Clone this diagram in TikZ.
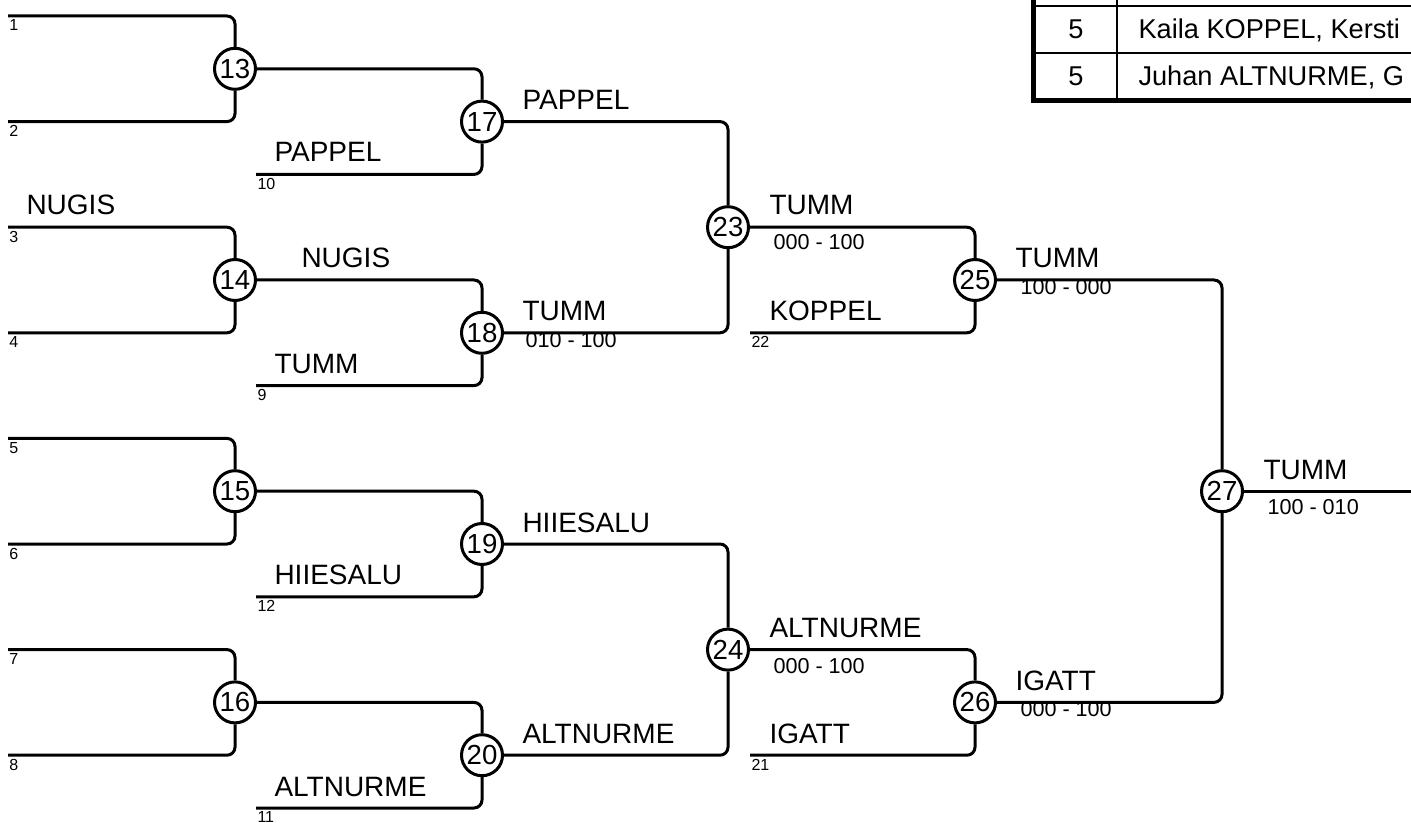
\documentclass[tikz,border=0pt]{standalone}
\usepackage{fontspec}
\setmainfont{Liberation Sans}

\begin{document}
\begin{tikzpicture}[x=0.5pt,y=-0.5pt,line width=1.5pt,
  match/.style={circle,draw,fill=white,inner sep=0pt,minimum size=20.5pt,font=\fontsize{13.8}{14}\selectfont},
  who/.style={anchor=base west,inner sep=0pt,font=\fontsize{14}{16}\selectfont},
  slot/.style={anchor=base west,inner sep=0pt,font=\fontsize{8}{9}\selectfont},
  score/.style={anchor=base west,inner sep=0pt,font=\fontsize{10.8}{12}\selectfont},
  cell/.style={inner sep=0pt,font=\fontsize{13.6}{15}\selectfont}]
\useasboundingbox (0,0) rectangle (1411,823);
\clip (0,0) rectangle (1411,823);
%----------------------------------
% round 1
\coordinate (s1) at (8,16);
\coordinate (s2) at (8,121.6);
\coordinate (s3) at (8,227.2);
\coordinate (s4) at (8,332.8);
\coordinate (s5) at (8,438.4);
\coordinate (s6) at (8,544);
\coordinate (s7) at (8,649.6);
\coordinate (s8) at (8,755.2);
\node [match] (m13) at (235,68.8) {13};
\node [match] (m14) at (235,280) {14};
\node [match] (m15) at (235,491.2) {15};
\node [match] (m16) at (235,702.4) {16};
%----------------------------------
% round 2
\coordinate (s10) at (256,174.4);
\coordinate (s9) at (256,385.6);
\coordinate (s12) at (256,596.8);
\coordinate (s11) at (256,808);
\node [match] (m17) at (482,121.6) {17};
\node [match] (m18) at (482,332.8) {18};
\node [match] (m19) at (482,544) {19};
\node [match] (m20) at (482,755.2) {20};
%----------------------------------
% rounds 3 to 5
\node [match] (m23) at (728,227.2) {23};
\node [match] (m24) at (728,649.6) {24};
\coordinate (s22) at (750,332.8);
\coordinate (s21) at (750,755.2);
\node [match] (m25) at (975,280) {25};
\node [match] (m26) at (975,702.4) {26};
\node [match] (m27) at (1222,491.2) {27};
\coordinate (fin) at (1430,491.2);
%----------------------------------
\begin{scope}[rounded corners=4pt]
\draw (s1) -| (m13);  \draw (s2) -| (m13);
\draw (s3) -| (m14);  \draw (s4) -| (m14);
\draw (s5) -| (m15);  \draw (s6) -| (m15);
\draw (s7) -| (m16);  \draw (s8) -| (m16);
\draw (m13) -| (m17); \draw (s10) -| (m17);
\draw (m14) -| (m18); \draw (s9) -| (m18);
\draw (m15) -| (m19); \draw (s12) -| (m19);
\draw (m16) -| (m20); \draw (s11) -| (m20);
\draw (m17) -| (m23); \draw (m18) -| (m23);
\draw (m19) -| (m24); \draw (m20) -| (m24);
\draw (m23) -| (m25); \draw (s22) -| (m25);
\draw (m24) -| (m26); \draw (s21) -| (m26);
\draw (m25) -| (m27); \draw (m26) -| (m27);
\draw (m27) -- (fin);
\end{scope}
%----------------------------------
% draw positions
\node [slot] (n1) at (8,31) {1};
\node [slot] (n2) at (8,136.6) {2};
\node [slot] (n3) at (8,242.2) {3};
\node [slot] (n4) at (8,347.8) {4};
\node [slot] (n5) at (8,453.4) {5};
\node [slot] (n6) at (8,559) {6};
\node [slot] (n7) at (8,664.6) {7};
\node [slot] (n8) at (8,770.2) {8};
\node [slot] (n10) at (256,189.4) {10};
\node [slot] (n9) at (256,400.6) {9};
\node [slot] (n12) at (256,611.8) {12};
\node [slot] (n11) at (256,822.5) {11};
\node [slot] (n22) at (750,347.8) {22};
\node [slot] (n21) at (750,770.2) {21};
%----------------------------------
% names
\node [who] (w3) at (25,215) {NUGIS};
\node [who] (w10) at (273,162) {PAPPEL};
\node [who] (w9) at (273,373.5) {TUMM};
\node [who] (w12) at (273,584.5) {HIIESALU};
\node [who] (w11) at (273,796) {ALTNURME};
\node [who] (w14) at (300,268) {NUGIS};
\node [who] (w17) at (521,109.5) {PAPPEL};
\node [who] (w18) at (521,320.5) {TUMM};
\node [who] (w19) at (521,532) {HIIESALU};
\node [who] (w20) at (521,743) {ALTNURME};
\node [who] (w23) at (768,215) {TUMM};
\node [who] (w22) at (768,320.5) {KOPPEL};
\node [who] (w24) at (768,637.5) {ALTNURME};
\node [who] (w21) at (768,743) {IGATT};
\node [who] (w25) at (1014,268) {TUMM};
\node [who] (w26) at (1014,690) {IGATT};
\node [who] (w27) at (1262,479) {TUMM};
%----------------------------------
% scores
\node [score] (r18) at (524,347) {010 - 100};
\node [score] (r23) at (772,250) {000 - 100};
\node [score] (r24) at (772,673) {000 - 100};
\node [score] (r25) at (1019,294) {100 - 000};
\node [score] (r26) at (1019,716) {000 - 100};
\node [score] (r27) at (1266,514) {100 - 010};
%----------------------------------
% ranking table
\draw [line width=1pt] (1033,6) -- (1500,6) (1033,53) -- (1500,53)
  (1117,-20) -- (1117,100);
\draw [line width=2.5pt] (1033,-20) -- (1033,101) -- (1500,101);
\node [cell,anchor=base] (p1) at (1076,39) {5};
\node [cell,anchor=base west] (q1) at (1137,39) {Kaila KOPPEL, Kersti};
\node [cell,anchor=base] (p2) at (1076,86) {5};
\node [cell,anchor=base west] (q2) at (1137,86) {Juhan ALTNURME, G};
\end{tikzpicture}
\end{document}
